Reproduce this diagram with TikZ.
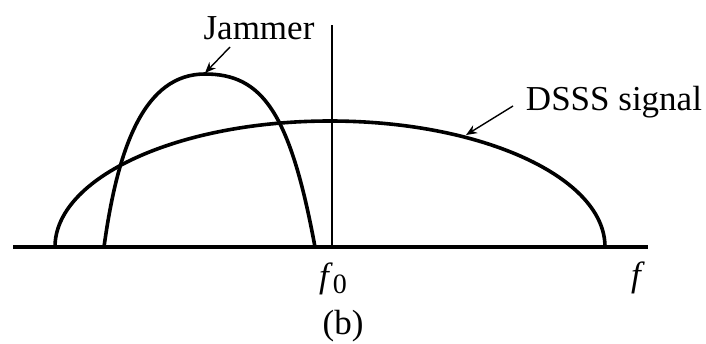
\documentclass[tikz,border=0pt]{standalone}
\usepackage{fontspec}
\setmainfont{Liberation Serif}
\usetikzlibrary{arrows.meta}
\begin{document}
\begin{tikzpicture}[x=0.5pt,y=-0.5pt,
  curve/.style={line width=1.8pt},
  axisline/.style={line width=1.8pt},
  marker/.style={line width=0.75pt},
  pointer/.style={line width=0.7pt,-{Stealth[length=5.5pt,width=4.5pt]}},
  lbl/.style={font=\fontsize{17.5}{20}\selectfont, inner sep=0pt}]
\useasboundingbox (0,0) rectangle (706,343);
% axis
\coordinate (axL) at (13,247);
\coordinate (axR) at (648,247);
\draw[axisline] (axL) -- (axR);
% f0 marker
\coordinate (mTop) at (332,25);
\coordinate (mBot) at (332,247);
\draw[marker] (mTop) -- (mBot);
% DSSS signal (half ellipse)
\coordinate (dL) at (55,247);
\draw[curve] (dL) arc[start angle=180,end angle=360,x radius=275,y radius=126];
% Jammer
\coordinate (jL) at (104,247);
\coordinate (jTop) at (205,74);
\coordinate (jR) at (315,247);
\draw[curve] (jL) .. controls (118,145) and (145,74) .. (jTop)
  .. controls (262,74) and (290,112) .. (jR);
% labels
\node[lbl] (jam) at (259,28) {Jammer};
\node[lbl] (dsss) at (614,102) {DSSS signal};
\node[lbl] (f0) at (333,279) {\textit{f}\raisebox{-0.35ex}{\fontsize{14}{16}\selectfont 0}};
\node[lbl] (f) at (638,278) {\textit{f}};
\node[lbl] (cap) at (343,326) {(b)};
% pointers
\coordinate (jS) at (230,47);
\coordinate (jE) at (205,73);
\draw[pointer] (jS) -- (jE);
\coordinate (dS) at (513,106);
\coordinate (dE) at (466,135);
\draw[pointer] (dS) -- (dE);
\end{tikzpicture}
\end{document}
